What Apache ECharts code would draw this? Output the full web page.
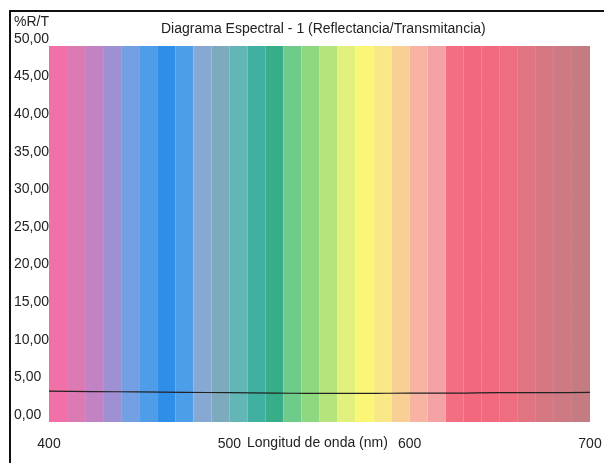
<!DOCTYPE html>
<html>
<head>
<meta charset="utf-8">
<script src="https://cdn.jsdelivr.net/npm/echarts@6/dist/echarts.min.js"></script>
<style>html,body{margin:0;background:#fff}#c{width:604px;height:463px}</style>
</head>
<body>
<div id="c"></div>
<script>
// colour bands, 10 nm wide
const bandEdges=[400,410,420,430,440,450,460,470,480,490,500,510,520,530,540,550,560,570,580,590,600,610,620,630,640,650,660,670,680,690,700];
const bandColors=['#f270a8','#dc7ab4','#c283c4','#9f90d4','#72a0e2','#4f9ce8','#2f8fe8','#4c9ee8','#86a8d2','#7eaabe',
  '#62b6b6','#40b0a0','#38ad8a','#6ecb8a','#90d880','#b6e47c','#e2f07e','#fcf676','#f9e886','#f8d096',
  '#f7b4a2','#f4a2a4','#f36e80','#f2687c','#f26a7e','#ee6e80','#e07480','#d67882','#ce7a84','#c47c82'];
// measured curve (%R/T)
const waveNm=[400,425,450,475,500,525,550,575,600,625,650,675,700];
const rtValues=[4.1,4.05,4.0,3.95,3.9,3.85,3.8,3.8,3.85,3.85,3.9,3.9,3.95];
const yTicks=[0,5,10,15,20,25,30,35,40,45,50];
const xTicks=[400,500,600,700];

const chart=echarts.init(document.getElementById('c'));
const font='Liberation Sans';
chart.setOption({
  animation:false,
  title:{text:'Diagrama Espectral - 1 (Reflectancia/Transmitancia)',left:156,top:17,
    textStyle:{fontFamily:font,fontSize:14,fontWeight:'normal',color:'#222'}},
  graphic:[
    {type:'rect',shape:{x:10,y:11,width:620,height:470},style:{fill:null,stroke:'#111',lineWidth:2},z:100},
    {type:'text',left:14,top:15,style:{text:'%R/T',fontFamily:font,fontSize:14,fill:'#222'}},
    // x axis title sits on the tick label row, between 500 and 600
    {type:'text',left:247,top:436,style:{text:'Longitud de onda (nm)',fontFamily:font,fontSize:14,fill:'#222'}}
  ],
  grid:{left:49,right:14,top:46,bottom:41,outerBoundsMode:'none',containLabel:false},
  xAxis:{type:'value',min:400,max:700,interval:10,
    axisLine:{show:false},axisTick:{show:false},
    splitLine:{show:true,lineStyle:{color:'rgba(255,255,255,0.45)',width:1}},
    axisLabel:{margin:15,fontFamily:font,fontSize:14,color:'#222',
      formatter:v=>xTicks.includes(v)?String(v):''}},
  yAxis:{type:'value',min:0,max:50,interval:5,
    axisLine:{show:false},axisTick:{show:false},
    splitLine:{show:true,lineStyle:{color:'rgba(255,255,255,0.45)',width:1}},
    axisLabel:{align:'left',margin:35,verticalAlign:'bottom',fontFamily:font,fontSize:14,color:'#222',
      formatter:v=>yTicks.includes(v)?v.toFixed(2).replace('.',','):''}},
  series:[
    {type:'line',z:-1,data:[],silent:true,
      markArea:{silent:true,data:bandColors.map((c,i)=>[
        {xAxis:bandEdges[i],yAxis:0,itemStyle:{color:c,opacity:1}},
        {xAxis:bandEdges[i+1],yAxis:50}])}},
    {type:'line',z:5,symbol:'none',smooth:true,
      lineStyle:{color:'#222',width:1.2},
      data:waveNm.map((w,i)=>[w,rtValues[i]])}
  ]
});
</script>
</body>
</html>
